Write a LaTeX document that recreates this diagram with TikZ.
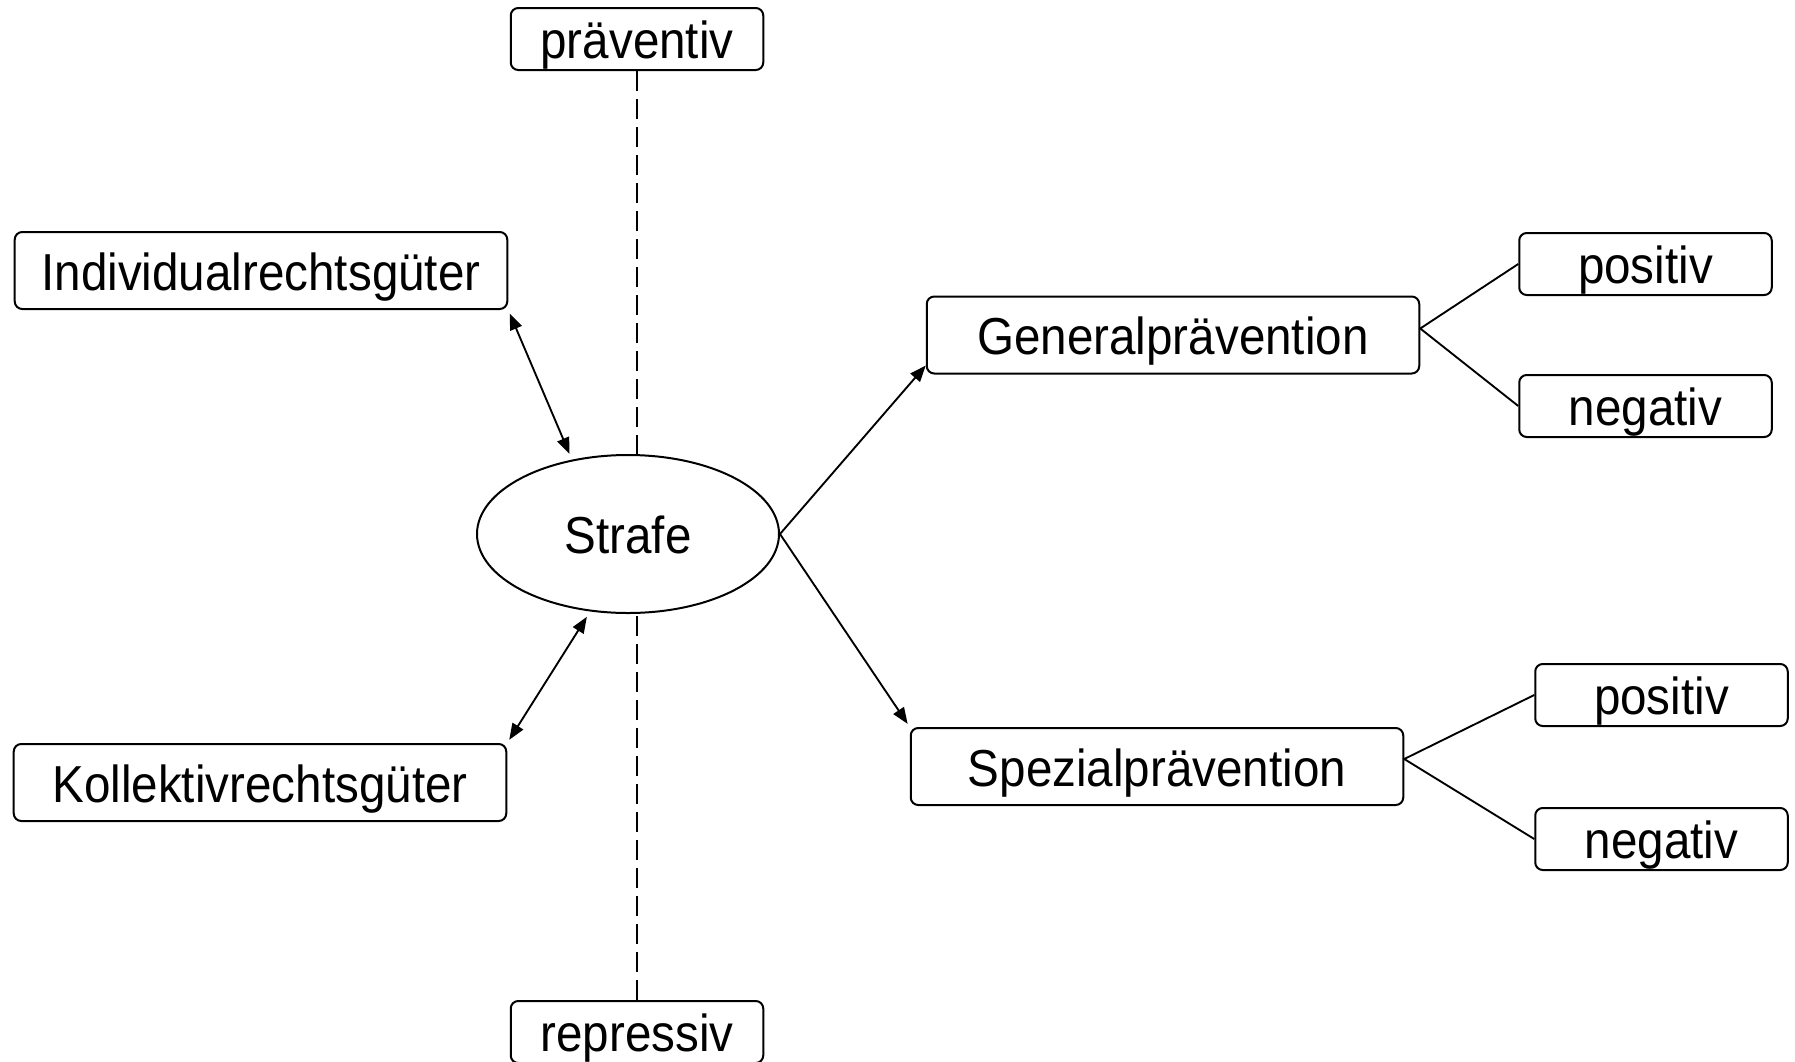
\documentclass[tikz,border=0pt]{standalone}
\usepackage{fontspec}
\setmainfont{Liberation Sans}[FakeStretch=0.915]
\usetikzlibrary{shapes.geometric,arrows.meta}

\begin{document}
\begin{tikzpicture}[x=0.4pt,y=-0.4pt,
    every node/.style={font=\fontsize{20.8}{25}\selectfont,line width=0.8pt},
    bigbox/.style={draw,rounded corners=3pt,inner sep=0pt,minimum width=197pt,minimum height=30.8pt,text height=15.6pt,text depth=0pt},
    smallbox/.style={draw,rounded corners=3pt,inner sep=0pt,minimum width=101pt,minimum height=24.8pt,text height=15.6pt,text depth=0pt},
    link/.style={line width=0.75pt,>={Triangle[length=6.5pt,width=5pt]}}]
      \useasboundingbox (0,0) rectangle (1795,1061);
      % centre
      \node[draw,ellipse,inner sep=0pt,minimum width=120.8pt,minimum height=63.2pt,text height=15.2pt,text depth=0pt] (strafe) at (628,534) {Strafe};
      \node[smallbox] (prae) at (637,39) {präventiv};
      \node[smallbox] (rep) at (637,1032) {repressiv};
      \draw[line width=0.75pt,dash pattern=on 8pt off 3.2pt] (prae.south) -- (prae.south |- strafe.north);
      \draw[line width=0.75pt,dash pattern=on 8pt off 3.2pt] (rep.north) -- (rep.north |- strafe.south);
      % left side
      \node[bigbox] (indiv) at (261,270.5) {Individualrechtsgüter};
      \node[bigbox] (koll) at (260,782.5) {Kollektivrechtsgüter};
      \draw[link,<->,shorten <=1.5pt,shorten >=2.5pt] (indiv.south east) -- (strafe.127);
      \draw[link,<->,shorten <=1.5pt,shorten >=2.5pt] (koll.north east) -- (strafe.244);
      % right side
      \node[bigbox] (gen) at (1173,335) {Generalprävention};
      \node[bigbox] (spez) at (1157,766.5) {Spezialprävention};
      \draw[link,->] (strafe.east) -- ([yshift=3.6pt]gen.south west);
      \draw[link,->,shorten >=1.5pt] (strafe.east) -- (spez.north west);
      \node[smallbox] (gpos) at (1645.5,264) {positiv};
      \node[smallbox] (gneg) at (1645.5,406) {negativ};
      \node[smallbox] (spos) at (1661.5,695) {positiv};
      \node[smallbox] (sneg) at (1661.5,839) {negativ};
      \draw[link] (gpos.west) -- ([yshift=2.6pt]gen.east) -- (gneg.west);
      \draw[link] (spos.west) -- ([yshift=3pt]spez.east) -- (sneg.west);
    \end{tikzpicture}
\end{document}
